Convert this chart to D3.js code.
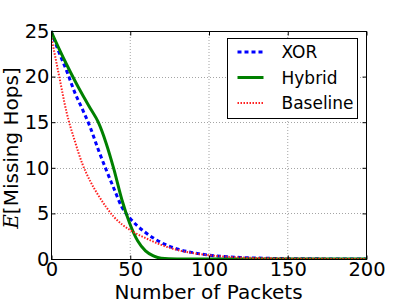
<!DOCTYPE html>
<html>
<head>
<meta charset="utf-8">
<script src="https://cdn.jsdelivr.net/npm/d3@7"></script>
<style>
  body { margin: 0; background: #fff; }
  text { font-family: "DejaVu Sans", sans-serif; }
</style>
</head>
<body>
<svg id="chart" width="407" height="305"></svg>
<script>
// packets sent (x) and expected missing hops per scheme
const packets = [0, 5, 10, 15, 20, 25, 30, 35, 40, 45, 50, 55, 60, 65, 70, 80, 90, 100, 110, 120, 130, 140, 150, 160, 180, 200];
const xorHops = [25, 22.7, 20.6, 18.3, 16.4, 14.4, 12.0, 9.8, 7.7, 5.7, 4.5, 3.6, 2.9, 2.3, 1.8, 1.1, 0.7, 0.43, 0.27, 0.17, 0.11, 0.07, 0.04, 0.02, 0.01, 0];
const hybridHops = [25, 23.1, 21.3, 19.6, 18.0, 16.5, 15.0, 12.7, 9.8, 6.5, 3.9, 2.0, 0.9, 0.35, 0.08, 0.01, 0, 0, 0, 0, 0, 0, 0, 0, 0, 0];
const baselineHops = [24.5, 20.2, 16.0, 13.0, 10.4, 8.5, 7.0, 5.7, 4.6, 3.8, 3.2, 2.7, 2.3, 1.9, 1.55, 1.0, 0.65, 0.42, 0.27, 0.17, 0.11, 0.07, 0.045, 0.03, 0.01, 0];
const xTicks = [0, 50, 100, 150, 200];
const yTicks = [0, 5, 10, 15, 20, 25];

const series = [
    { name: "XOR", values: xorHops, color: "#0000ff", width: 3, dash: "4,3" },
    { name: "Hybrid", values: hybridHops, color: "#008000", width: 3, dash: null },
    { name: "Baseline", values: baselineHops, color: "#ff2020", width: 2, dash: "1.5,1.5" }
];

const margin = { top: 31, right: 41, bottom: 46, left: 51 };
const width = 407 - margin.left - margin.right;
const height = 305 - margin.top - margin.bottom;

const svg = d3.select("#chart");
const g = svg.append("g").attr("transform", `translate(${margin.left},${margin.top})`);

const x = d3.scaleLinear().domain([0, 200]).range([0, width]);
const y = d3.scaleLinear().domain([0, 25]).range([height, 0]);

// grid
g.append("g").selectAll("line")
    .data(xTicks.slice(1, -1))
    .join("line")
    .attr("x1", d => x(d) + 0.5).attr("x2", d => x(d) + 0.5)
    .attr("y1", 0).attr("y2", height)
    .attr("stroke", "#666").attr("stroke-width", 0.6).attr("stroke-dasharray", "1,2");

g.append("g").selectAll("line")
    .data(yTicks.slice(1, -1))
    .join("line")
    .attr("y1", d => Math.round(y(d)) + 0.5).attr("y2", d => Math.round(y(d)) + 0.5)
    .attr("x1", 0).attr("x2", width)
    .attr("stroke", "#666").attr("stroke-width", 0.6).attr("stroke-dasharray", "1,2");

// curves
const line = d3.line()
    .x((d, i) => x(packets[i]))
    .y(d => y(d))
    .curve(d3.curveMonotoneX);

g.append("defs").append("clipPath").attr("id", "clip")
    .append("rect").attr("x", 0).attr("y", -2).attr("width", width).attr("height", height + 2);

g.append("g").attr("clip-path", "url(#clip)")
    .selectAll("path")
    .data(series)
    .join("path")
    .attr("d", d => line(d.values))
    .attr("fill", "none")
    .attr("stroke", d => d.color)
    .attr("stroke-width", d => d.width)
    .attr("stroke-dasharray", d => d.dash);

// frame
g.append("rect")
    .attr("x", 0.5).attr("y", 0.5)
    .attr("width", width).attr("height", height)
    .attr("fill", "none").attr("stroke", "#000").attr("stroke-width", 1);

// axes (ticks inward)
g.append("g")
    .attr("transform", `translate(0.5,${height + 0.5})`)
    .call(d3.axisBottom(x).tickValues(xTicks).tickSizeInner(-4).tickSizeOuter(0).tickPadding(3));
g.append("g")
    .attr("transform", "translate(0.5,0)")
    .call(d3.axisLeft(y).tickValues(yTicks).tickSizeInner(-4).tickSizeOuter(0).tickPadding(2));
g.append("g")
    .attr("transform", "translate(0.5,0.5)")
    .call(d3.axisTop(x).tickValues(xTicks).tickSizeInner(-4).tickSizeOuter(0).tickFormat(""));
g.append("g")
    .attr("transform", `translate(${width + 0.5},0)`)
    .call(d3.axisRight(y).tickValues(yTicks).tickSizeInner(-4).tickSizeOuter(0).tickFormat(""));

g.selectAll(".domain").remove();
g.selectAll(".tick text")
    .attr("font-family", "DejaVu Sans")
    .attr("font-size", 19.5)
    .attr("fill", "#000");

// axis titles
svg.append("text")
    .attr("x", margin.left + width / 2)
    .attr("y", 299)
    .attr("text-anchor", "middle")
    .attr("font-size", 20)
    .text("Number of Packets");

const yTitle = svg.append("text")
    .attr("transform", `translate(18,148) rotate(-90)`)
    .attr("text-anchor", "middle")
    .attr("font-size", 20);
yTitle.append("tspan")
    .attr("font-family", "DejaVu Serif")
    .attr("font-style", "italic")
    .text("E");
yTitle.append("tspan").text("[Missing Hops]");

// legend
const legend = svg.append("g").attr("transform", "translate(227.5,38.5)");
legend.append("rect")
    .attr("width", 130).attr("height", 80)
    .attr("fill", "#fff").attr("stroke", "#000").attr("stroke-width", 1);

const items = legend.selectAll(".legend-item")
    .data(series)
    .join("g")
    .attr("class", "legend-item")
    .attr("transform", (d, i) => `translate(0,${13.5 + i * 25.5})`);

items.append("line")
    .attr("x1", 10).attr("x2", 36)
    .attr("stroke", d => d.color)
    .attr("stroke-width", d => d.width)
    .attr("stroke-dasharray", d => d.dash);

items.append("text")
    .attr("x", 54)
    .attr("dy", "0.36em")
    .attr("font-size", 17)
    .text(d => d.name);
</script>
</body>
</html>
